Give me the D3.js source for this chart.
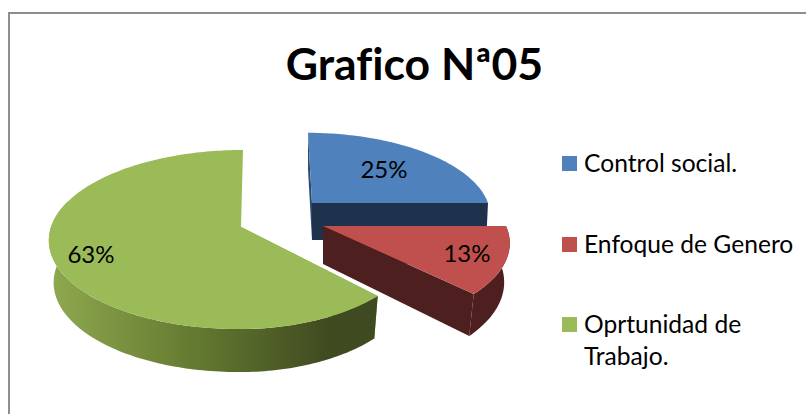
<!DOCTYPE html>
<html><head><meta charset="utf-8">
<script src="https://cdnjs.cloudflare.com/ajax/libs/d3/7.8.5/d3.min.js"></script>
<style>html,body{margin:0;background:#fff}svg{display:block}text{font-family:Lato,Carlito,sans-serif;fill:#000;font-variant-ligatures:none}</style>
</head><body><svg id="c" width="806" height="414"></svg>
<script>
const title = "Grafico Nª05";
const categories = ["Control social.", "Enfoque de Genero", "Oprtunidad de Trabajo."];
const values = [25, 12.5, 62.5];
const labels = ["25%", "13%", "63%"];
const colors = ["#4f81bd", "#c0504d", "#9bbb59"];
const sideColors = ["#1e324d", "#4e1f1f", "#3f4a20"];
const wallColors = ["#2c4a70", "#4e1f1f", "#7f9a45"];
const legendLines = [["Control social."], ["Enfoque de Genero"], ["Oprtunidad de", "Trabajo."]];

const geom = [
  {cx:312, cy:203, rxL:176, rxR:176, ry:80, p:.14, skew:-4, depth:37, sx:.99, sy:1, lx:384, ly:178},
  {cx:323, cy:226, rxL:183, rxR:183, ry:82.6, p:.2, skew:0, depth:38, sx:.97, sy:1.06, lx:467, ly:262},
  {cx:241, cy:227, rxL:190, rxR:176, ry:87.8, p:.14, skew:2, depth:42, sx:.975, sy:1.01, lx:91, ly:263}
];
const svg = d3.select("#c");
const defs = svg.append("defs");
const grad = defs.append("linearGradient").attr("id","gs").attr("gradientUnits","userSpaceOnUse")
  .attr("x1",50).attr("x2",380).attr("y1",0).attr("y2",0);
[[0,"#8fa94f"],[.45,"#637830"],[.85,"#3f4a20"],[1,"#3f4a20"]].forEach(s=>grad.append("stop").attr("offset",s[0]).attr("stop-color",s[1]));

svg.append("rect").attr("x",9).attr("y",13).attr("width",830).attr("height",430)
  .attr("fill","#fff").attr("stroke","#8e8e8e").attr("stroke-width",2);

const arcs = d3.pie().sort(null).value(d=>d)(values);
function proj(g,a,r,low){
  const u=Math.sin(a)*r, v=Math.cos(a)*r, s=1/(1+g.p*v);
  let x=u*s*(u<0?g.rxL:g.rxR)+g.skew*v, y=-g.ry*v*s;
  if(low){x*=g.sx;y=y*g.sy+g.depth;}
  return [g.cx+x,g.cy+y];
}
const line=d3.line();
function arcPts(g,a0,a1,low){
  const n=Math.max(2,Math.ceil(Math.abs(a1-a0)/0.02));
  return d3.range(n+1).map(i=>proj(g,a0+(a1-a0)*i/n,1,low));
}
const order=[0,2,1];
order.forEach(i=>{
  const g=geom[i],d=arcs[i],A=d.startAngle,B=d.endAngle,G=svg.append("g");
  const apex=proj(g,0,0,false),apexL=proj(g,0,0,true);
  G.append("path").attr("fill",wallColors[i]).attr("d",line([proj(g,A,1,false),apex,apexL,proj(g,A,1,true)])+"Z");
  if(i<2){
    G.append("path").attr("fill",sideColors[i]).attr("d",line([apex,proj(g,B,1,false),proj(g,B,1,true),apexL])+"Z");
  }
  if(i===1){
    G.append("path").attr("fill",sideColors[i]).attr("d",line(arcPts(g,A,B,false).concat(arcPts(g,B,A,true)))+"Z");
  }
  if(i===2){
    G.append("path").attr("fill","url(#gs)").attr("d",line(arcPts(g,A,Math.PI*1.6,false).concat(arcPts(g,Math.PI*1.6,A,true)))+"Z");
  }
  G.append("path").attr("fill",colors[i]).attr("d",line([apex].concat(arcPts(g,A,B,false)))+"Z");
});
arcs.forEach((d,i)=>{
  svg.append("text").attr("x",geom[i].lx).attr("y",geom[i].ly).attr("text-anchor","middle").attr("font-size",24).text(labels[i]);
});
svg.append("text").attr("x",414.5).attr("y",80).attr("text-anchor","middle").attr("font-size",44.5).attr("font-weight",700).text(title);

const legendY=[156,237,317];
const legendScale=d3.scaleOrdinal().domain(categories).range(legendY);
categories.forEach((c,i)=>{
  const y=legendScale(c);
  svg.append("rect").attr("x",562).attr("y",y).attr("width",15).attr("height",15).attr("fill",colors[i]);
  legendLines[i].forEach((t,j)=>{
    svg.append("text").attr("x",584).attr("y",y+16+j*32).attr("font-size",24.6).text(t);
  });
});
</script></body></html>
